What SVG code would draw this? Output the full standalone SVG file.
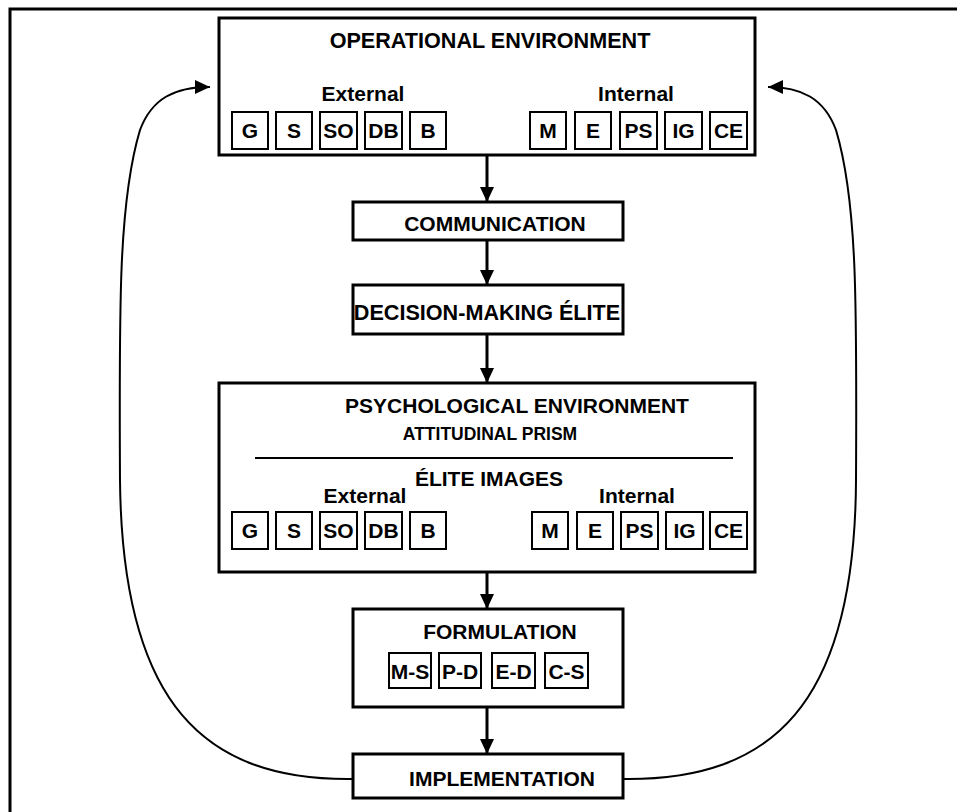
<svg xmlns="http://www.w3.org/2000/svg" width="957" height="812" viewBox="0 0 957 812">
<defs>
<style>
.box{fill:#fff;stroke:#000;stroke-width:3}
.sb{fill:#fff;stroke:#000;stroke-width:2}
.t{font-family:"Liberation Sans",Arial,sans-serif;font-weight:bold;font-size:21px;fill:#000;text-anchor:middle}
.s{font-size:17.5px}
.h{font-size:21.6px}
.c{fill:none;stroke:#000;stroke-width:3}
.cv{fill:none;stroke:#000;stroke-width:2}
</style>
<marker id="ah" markerUnits="userSpaceOnUse" markerWidth="16" markerHeight="14" refX="15" refY="7" orient="auto">
<path d="M0,0 L15,7 L0,14 z" fill="#000"/>
</marker>
</defs>
<rect width="957" height="812" fill="#fff"/>
<path d="M10 812 V9 H957" fill="none" stroke="#000" stroke-width="3"/>

<g id="connectors">
<line class="c" x1="487" y1="155" x2="487" y2="202" marker-end="url(#ah)"/>
<line class="c" x1="487" y1="240" x2="487" y2="285" marker-end="url(#ah)"/>
<line class="c" x1="487" y1="334" x2="487" y2="383" marker-end="url(#ah)"/>
<line class="c" x1="487" y1="572" x2="487" y2="609" marker-end="url(#ah)"/>
<line class="c" x1="487" y1="707" x2="487" y2="754" marker-end="url(#ah)"/>
<path class="cv" d="M353 779 C205 781 122 705 120 480 C119 300 119 200 140 130 C152 98 175 87 210 87" marker-end="url(#ah)"/>
<path class="cv" d="M623 779 C772 781 855 705 856 480 C857 300 857 200 836 130 C824 98 801 87 768 87" marker-end="url(#ah)"/>
</g>

<g id="operational">
<rect class="box" x="219" y="18" width="536" height="137"/>
<text class="t h" x="490" y="48">OPERATIONAL ENVIRONMENT</text>
<text class="t" x="363" y="101">External</text>
<text class="t" x="636" y="101">Internal</text>
<rect class="sb" x="232" y="112" width="36" height="37"/><text class="t" x="250" y="138">G</text>
<rect class="sb" x="276" y="112" width="36" height="37"/><text class="t" x="294" y="138">S</text>
<rect class="sb" x="320" y="112" width="37" height="37"/><text class="t" x="338.5" y="138">SO</text>
<rect class="sb" x="365" y="112" width="37" height="37"/><text class="t" x="383.5" y="138">DB</text>
<rect class="sb" x="410" y="112" width="36" height="37"/><text class="t" x="428" y="138">B</text>
<rect class="sb" x="530" y="112" width="36" height="37"/><text class="t" x="548" y="138">M</text>
<rect class="sb" x="575" y="112" width="36" height="37"/><text class="t" x="593" y="138">E</text>
<rect class="sb" x="620" y="112" width="37" height="37"/><text class="t" x="638.5" y="138">PS</text>
<rect class="sb" x="665" y="112" width="37" height="37"/><text class="t" x="683.5" y="138">IG</text>
<rect class="sb" x="710" y="112" width="37" height="37"/><text class="t" x="728.5" y="138">CE</text>
</g>

<g id="communication">
<rect class="box" x="353" y="202" width="270" height="38"/>
<text class="t" x="495" y="231">COMMUNICATION</text>
</g>

<g id="decision">
<rect class="box" x="353" y="285" width="270" height="49"/>
<text class="t h" x="487" y="320">DECISION-MAKING ÉLITE</text>
</g>

<g id="psychological">
<rect class="box" x="219" y="383" width="536" height="189"/>
<text class="t" x="517" y="413">PSYCHOLOGICAL ENVIRONMENT</text>
<text class="t s" x="490" y="440">ATTITUDINAL PRISM</text>
<line x1="255" y1="458" x2="733" y2="458" stroke="#000" stroke-width="2"/>
<text class="t" x="489" y="486">ÉLITE IMAGES</text>
<text class="t" x="365" y="503">External</text>
<text class="t" x="637" y="503">Internal</text>
<rect class="sb" x="232" y="512" width="36" height="37"/><text class="t" x="250" y="538">G</text>
<rect class="sb" x="276" y="512" width="36" height="37"/><text class="t" x="294" y="538">S</text>
<rect class="sb" x="320" y="512" width="37" height="37"/><text class="t" x="338.5" y="538">SO</text>
<rect class="sb" x="365" y="512" width="37" height="37"/><text class="t" x="383.5" y="538">DB</text>
<rect class="sb" x="410" y="512" width="36" height="37"/><text class="t" x="428" y="538">B</text>
<rect class="sb" x="532" y="512" width="36" height="37"/><text class="t" x="550" y="538">M</text>
<rect class="sb" x="577" y="512" width="36" height="37"/><text class="t" x="595" y="538">E</text>
<rect class="sb" x="621" y="512" width="37" height="37"/><text class="t" x="639.5" y="538">PS</text>
<rect class="sb" x="666" y="512" width="37" height="37"/><text class="t" x="684.5" y="538">IG</text>
<rect class="sb" x="710" y="512" width="37" height="37"/><text class="t" x="728.5" y="538">CE</text>
</g>

<g id="formulation">
<rect class="box" x="353" y="609" width="270" height="98"/>
<text class="t" x="500" y="639">FORMULATION</text>
<rect class="sb" x="389" y="653" width="42" height="35"/><text class="t" x="410" y="679">M-S</text>
<rect class="sb" x="439" y="653" width="42" height="35"/><text class="t" x="460" y="679">P-D</text>
<rect class="sb" x="492" y="653" width="43" height="35"/><text class="t" x="513.5" y="679">E-D</text>
<rect class="sb" x="545" y="653" width="43" height="35"/><text class="t" x="566.5" y="679">C-S</text>
</g>

<g id="implementation">
<rect class="box" x="353" y="754" width="270" height="44"/>
<text class="t" x="502" y="786">IMPLEMENTATION</text>
</g>
</svg>
